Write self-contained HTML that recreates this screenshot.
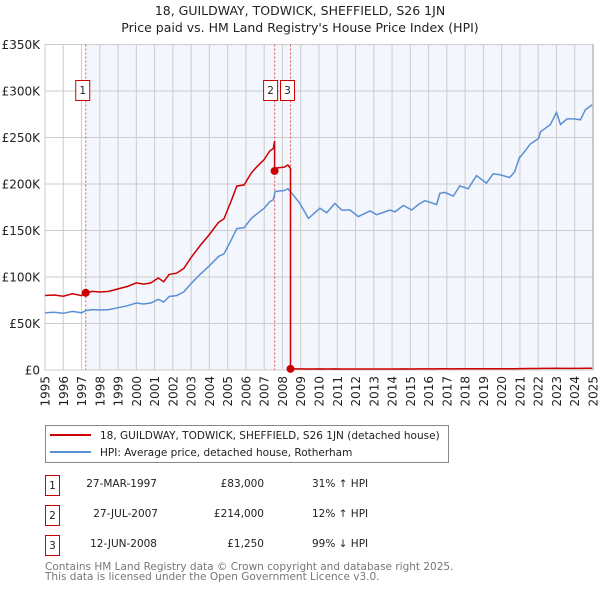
<!DOCTYPE html>
<html><head><meta charset="utf-8"><style>
body{margin:0;background:#fff;font-family:"DejaVu Sans","Liberation Sans",sans-serif;}
svg text{font-family:"DejaVu Sans","Liberation Sans",sans-serif;}
</style></head><body>
<svg id="chart" width="600" height="590" viewBox="0 0 600 590" xmlns="http://www.w3.org/2000/svg">
<text x="300" y="15" text-anchor="middle" font-size="12.5" fill="#222">18, GUILDWAY, TODWICK, SHEFFIELD, S26 1JN</text>
<text x="300" y="32" text-anchor="middle" font-size="12.5" fill="#222">Price paid vs. HM Land Registry's House Price Index (HPI)</text>
<g id="plot"></g>
<g>
<rect x="45.5" y="425.5" width="403" height="37" fill="#fff" stroke="#888"/>
<line x1="50" y1="435" x2="91" y2="435" stroke="#cc0000" stroke-width="2"/>
<text x="100" y="439" font-size="10.5" fill="#222">18, GUILDWAY, TODWICK, SHEFFIELD, S26 1JN (detached house)</text>
<line x1="50" y1="452" x2="91" y2="452" stroke="#5b8fd4" stroke-width="2"/>
<text x="100" y="456" font-size="10.5" fill="#222">HPI: Average price, detached house, Rotherham</text>
</g>
<g font-size="10.5" fill="#222">
<rect x="45.5" y="475.5" width="14" height="20" fill="#fff" stroke="#cc0000"/><text x="52.5" y="489" text-anchor="middle">1</text>
<text x="157" y="487" text-anchor="end">27-MAR-1997</text><text x="264" y="487" text-anchor="end">£83,000</text><text x="312" y="487">31% ↑ HPI</text>
<rect x="45.5" y="505.5" width="14" height="20" fill="#fff" stroke="#cc0000"/><text x="52.5" y="519" text-anchor="middle">2</text>
<text x="158" y="517" text-anchor="end">27-JUL-2007</text><text x="264" y="517" text-anchor="end">£214,000</text><text x="312" y="517">12% ↑ HPI</text>
<rect x="45.5" y="535.5" width="14" height="20" fill="#fff" stroke="#cc0000"/><text x="52.5" y="549" text-anchor="middle">3</text>
<text x="157" y="547" text-anchor="end">12-JUN-2008</text><text x="264" y="547" text-anchor="end">£1,250</text><text x="312" y="547">99% ↓ HPI</text>
</g>
<text x="45" y="570" font-size="10.5" fill="#777">Contains HM Land Registry data © Crown copyright and database right 2025.</text>
<text x="45" y="580" font-size="10.5" fill="#777">This data is licensed under the Open Government Licence v3.0.</text>
</svg>
<script>
const hpiYears=[1995.0,1995.5,1996.0,1996.5,1997.0,1997.25,1997.6,1998.0,1998.5,1999.0,1999.5,2000.0,2000.4,2000.8,2001.2,2001.5,2001.8,2002.2,2002.6,2003.0,2003.5,2004.0,2004.5,2004.8,2005.2,2005.5,2005.9,2006.3,2006.6,2007.0,2007.3,2007.5,2007.6,2008.1,2008.3,2008.6,2008.96,2009.42,2010.05,2010.42,2010.87,2011.24,2011.7,2012.15,2012.79,2013.16,2013.89,2014.16,2014.62,2015.08,2015.44,2015.8,2016.44,2016.62,2016.89,2017.35,2017.71,2018.17,2018.62,2019.17,2019.53,2019.9,2020.44,2020.71,2020.98,2021.02,2021.57,2022.03,2022.12,2022.67,2023.0,2023.22,2023.58,2023.95,2024.31,2024.59,2024.95];
const hpiValues=[61.6,62,61,63,61.5,64,65,64.5,65,67,69,72,71,72,76,73,79,80,84,93,103,112,122,125,140,152,153,163,168,174,181,183,192,193,195,188,179,163,174,169,179,172,172,165,171,167,172,170,177,172,178,182,178,190,191,187,198,195,209,201,211,210,207,213,229,229,243,249,256,264,277,264,270,270,269,280,285];
const saleYears=[1997.23,2007.57,2008.44];
const salePrices=[83,214,1.25];
const yTicks=[0,50,100,150,200,250,300,350];
const yTickLabels=["£0","£50K","£100K","£150K","£200K","£250K","£300K","£350K"];
const xTicks=[1995,1996,1997,1998,1999,2000,2001,2002,2003,2004,2005,2006,2007,2008,2009,2010,2011,2012,2013,2014,2015,2016,2017,2018,2019,2020,2021,2022,2023,2024,2025];

const NS="http://www.w3.org/2000/svg";
const X0=45,X1=593,Y0=370,Y1=44.5,YMIN=1995,YMAX=2025,VMAX=350;
const xs=y=>X0+(y-YMIN)/(YMAX-YMIN)*(X1-X0);
const ys=v=>Y0-v/VMAX*(Y0-Y1);
const plot=document.getElementById('plot');
function mk(t,a,p){const e=document.createElementNS(NS,t);for(const k in a)e.setAttribute(k,a[k]);(p||plot).appendChild(e);return e;}
function hpiAt(y){for(let i=1;i<hpiYears.length;i++){if(y<=hpiYears[i]){const t=(y-hpiYears[i-1])/(hpiYears[i]-hpiYears[i-1]);return hpiValues[i-1]+t*(hpiValues[i]-hpiValues[i-1]);}}return hpiValues[hpiValues.length-1];}

const bg=mk('rect',{x:X0,y:Y1,width:X1-X0,height:Y0-Y1,fill:'#fff'});


const sh=mk('rect',{x:xs(saleYears[0]),y:Y1,width:X1-xs(saleYears[0]),height:Y0-Y1,fill:'#f3f6fd'});


xTicks.forEach(t=>{
 const l=mk('line',{x1:xs(t),x2:xs(t),y1:Y1,y2:Y0,stroke:'#cccccc','stroke-width':1});
 
 
 const tx=mk('text',{x:0,y:0,'font-size':12,fill:'#222',transform:`translate(${xs(t)+4.5},${Y0+6}) rotate(-90)`,'text-anchor':'end'});
 tx.textContent=t;
 
 
});
yTicks.forEach((t,i)=>{
 const l=mk('line',{x1:X0,x2:X1,y1:ys(t),y2:ys(t),stroke:'#cccccc','stroke-width':1});
 
 
 const tx=mk('text',{x:40,y:ys(t)+4.5,'font-size':12,fill:'#222','text-anchor':'end'});
 tx.textContent=yTickLabels[i];
 
 
});
const frame=mk('rect',{x:X0,y:Y1,width:X1-X0,height:Y0-Y1,fill:'none',stroke:'#cccccc'});


mk('line',{x1:X1,x2:X1,y1:Y1,y2:Y0,stroke:'#999'});
// sale marker lines
saleYears.forEach((s,i)=>{
 const l=mk('line',{x1:xs(s),x2:xs(s),y1:Y1,y2:Y0,stroke:'#e05555','stroke-width':1,'stroke-dasharray':'2,2'});
 
 
});
// hpi line
let d='';hpiYears.forEach((y,i)=>{d+=(i?'L':'M')+xs(y).toFixed(1)+','+ys(hpiValues[i]).toFixed(1);});
const hp=mk('path',{d:d,fill:'none',stroke:'#5b8fd4','stroke-width':1.5});


// red line derived from sales scaled by HPI
const ratios=saleYears.map((s,i)=>salePrices[i]/hpiAt(s));
const pts=[];
hpiYears.forEach((y,i)=>{
 let seg=0;while(seg<saleYears.length-1&&y>=saleYears[seg+1])seg++;
 pts.push([y,hpiValues[i]*ratios[seg]]);
});
saleYears.forEach((s,i)=>{
 if(i>0)pts.push([s-0.0001,hpiAt(s)*ratios[i-1]]);
 pts.push([s,salePrices[i]]);
});
pts.sort((a,b)=>a[0]-b[0]);
let d2='';pts.forEach((p,i)=>{d2+=(i?'L':'M')+xs(p[0]).toFixed(1)+','+ys(p[1]).toFixed(1);});
const rp=mk('path',{d:d2,fill:'none',stroke:'#cc0000','stroke-width':1.5});


saleYears.forEach((s,i)=>{
 const c=mk('circle',{cx:xs(s),cy:ys(salePrices[i]),r:4,fill:'#cc0000'});
 
 
 const bx=xs(s)+(i===1?-3:(i===2?-2:-3));
 const cx=i===1?xs(s)-4:(i===2?xs(s)-3:xs(s)-3);
 const r=mk('rect',{x:cx-7,y:80.5,width:14,height:20,fill:'#fff',stroke:'#cc0000'});
 
 
 const t=mk('text',{x:cx,y:94,'font-size':10.5,fill:'#222','text-anchor':'middle'});
 t.textContent=String(i+1);
 
 
});
</script>
</body></html>
